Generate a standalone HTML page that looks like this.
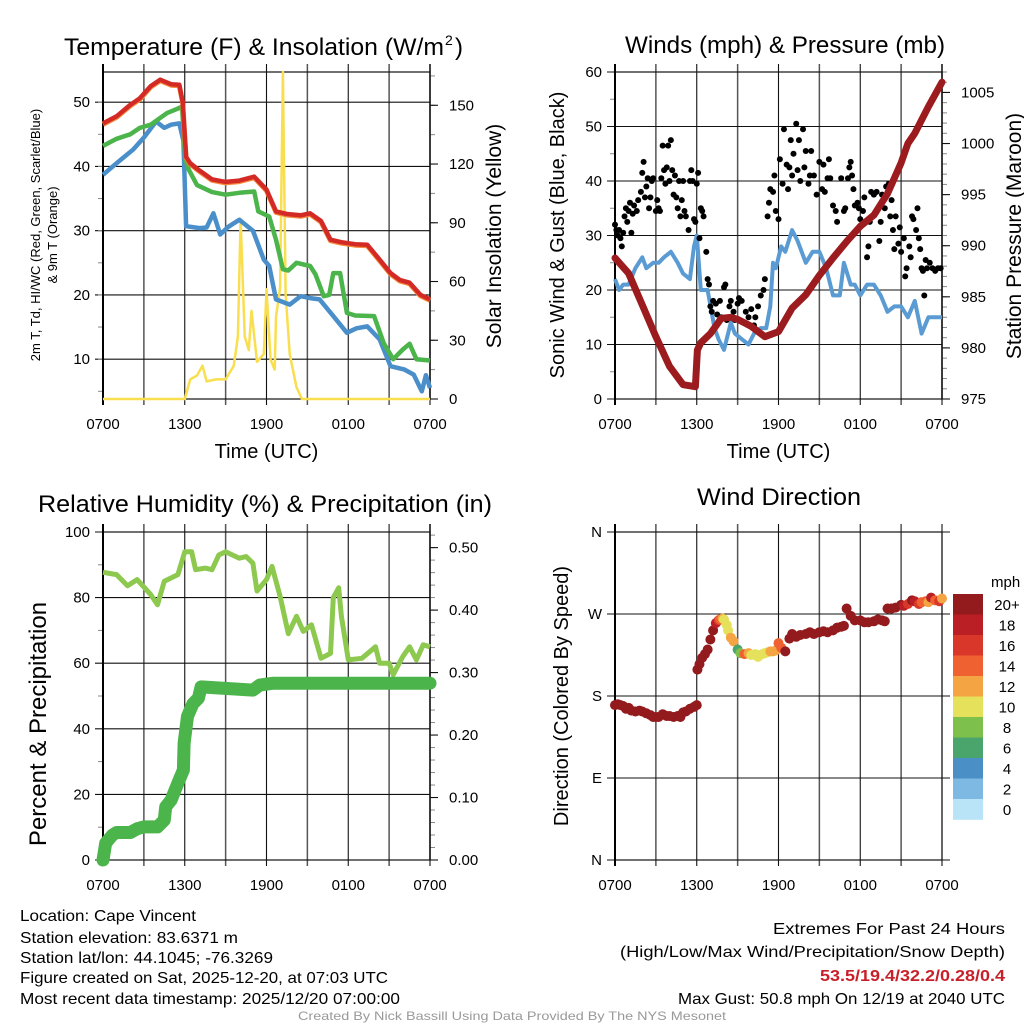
<!DOCTYPE html>
<html><head><meta charset="utf-8"><style>
body{margin:0;background:#fff}
svg{display:block;font-family:"Liberation Sans",sans-serif}
</style></head><body>
<svg id="fig" width="1024" height="1024" viewBox="0 0 1024 1024" xmlns="http://www.w3.org/2000/svg">
<rect width="1024" height="1024" fill="#fff"/>
<text x="64" y="55" font-size="24" textLength="380" lengthAdjust="spacingAndGlyphs">Temperature (F) &amp; Insolation (W/m</text>
<text x="445" y="45" font-size="14">2</text>
<text x="455" y="55" font-size="24">)</text>
<text x="625" y="53" font-size="24" textLength="320" lengthAdjust="spacingAndGlyphs">Winds (mph) &amp; Pressure (mb)</text>
<text x="38" y="512" font-size="24" textLength="454" lengthAdjust="spacingAndGlyphs">Relative Humidity (%) &amp; Precipitation (in)</text>
<text x="697" y="505" font-size="24" textLength="164" lengthAdjust="spacingAndGlyphs">Wind Direction</text>
<g id="layer"></g>
<g font-size="16">
<text x="20" y="921" textLength="176" lengthAdjust="spacingAndGlyphs">Location: Cape Vincent</text>
<text x="20" y="943" textLength="218" lengthAdjust="spacingAndGlyphs">Station elevation: 83.6371 m</text>
<text x="20" y="963" textLength="253" lengthAdjust="spacingAndGlyphs">Station lat/lon: 44.1045; -76.3269</text>
<text x="20" y="983" textLength="368" lengthAdjust="spacingAndGlyphs">Figure created on Sat, 2025-12-20, at 07:03 UTC</text>
<text x="20" y="1004" textLength="380" lengthAdjust="spacingAndGlyphs">Most recent data timestamp: 2025/12/20 07:00:00</text>
</g>
<g font-size="16">
<text x="773" y="934" textLength="232" lengthAdjust="spacingAndGlyphs">Extremes For Past 24 Hours</text>
<text x="620" y="957" textLength="385" lengthAdjust="spacingAndGlyphs">(High/Low/Max Wind/Precipitation/Snow Depth)</text>
<text x="820" y="981" fill="#c8202a" font-weight="bold" textLength="185" lengthAdjust="spacingAndGlyphs">53.5/19.4/32.2/0.28/0.4</text>
<text x="678" y="1004" textLength="327" lengthAdjust="spacingAndGlyphs">Max Gust: 50.8 mph On 12/19 at 2040 UTC</text>
</g>
<text x="512" y="1020" font-size="12" fill="#999" text-anchor="middle" textLength="428" lengthAdjust="spacingAndGlyphs">Created By Nick Bassill Using Data Provided By The NYS Mesonet</text>
</svg>
<script>
const xTickLabels=["0700","1300","1900","0100","0700"];
const tempHours=[0,1,2,2.7,3.5,4.2,5,5.6,5.85,6.1,6.4,7,8,9,10,11.1,12,12.7,13.5,14.5,15.2,16,16.7,17.5,18.5,19.4,20.3,21.1,21.8,22.5,23.3,24];
const tempRed=[46.7,47.8,49.6,50.6,52.5,53.5,52.8,52.7,50,41.5,40.5,39.5,38,37.6,37.8,38.4,36.4,33,32.6,32.4,32.7,31.5,28.6,28.2,27.9,27.8,25.5,23.4,22.3,21.9,20,19.3];
const greenHours=[0,1,2,2.7,3.5,4.7,5.5,5.8,6.05,6.3,6.9,8,9,10,11.1,11.4,12.2,12.7,13.2,13.6,14.2,15.2,15.6,16.2,16.6,16.9,17.4,17.9,18.5,19.9,20.6,21.3,22,22.5,23,24];
const dewGreen=[43.2,44.3,45,46,46.5,48.3,49,49.3,41,39.5,37.1,36,35.6,35.9,36.1,33,32.2,28.6,24,23.8,25,24.5,23.2,19.8,20,23.4,23.4,17.2,16.8,16.7,12.5,10,11.5,12.4,10,9.8];
const blueHours=[0,1,2.2,3,3.9,4.5,5,5.6,5.9,6.1,7.1,7.6,8.1,8.6,9.2,10,11,11.8,12.2,12.7,13.7,14.5,15.2,15.9,16.9,17.9,18.6,19.4,20.3,21.1,22.1,22.8,23.4,23.7,24];
const wcBlue=[38.7,40.5,42.6,44.5,47,46,46.5,46.7,44,30.7,30.4,30.5,32.7,29.4,30.6,31.7,30,25.5,24.5,19.3,18.5,19.8,19.5,19.3,16.7,14.1,14.8,15.1,13.1,8.9,8.4,7.6,5,7.5,5.5];
const solarHours=[0,6,6.4,6.9,7.3,7.6,8.3,9,9.6,9.9,10.1,10.4,10.7,10.9,11.3,11.8,12,12.3,12.6,12.7,13,13.2,13.4,13.7,14.2,14.6,24];
const solarWm2=[0,0,10,12,17,9,10,10,17,32,92,32,25,45,19,23,56,20,15,42,57,167,54,23,6,0,0];
const gustHours=[0,0.1,0.2,0.3,0.4,0.5,0.6,0.7,0.8,0.9,1,1.1,1.2,1.3,1.4,1.6,1.7,1.9,2,2.1,2.2,2.3,2.4,2.5,2.6,2.7,2.8,3,3.1,3.2,3.3,3.4,3.5,3.6,3.7,3.8,3.9,4,4.1,4.2,4.3,4.4,4.5,4.6,4.7,4.8,4.9,5,5.1,5.2,5.4,5.5,5.6,5.7,5.8,5.9,6,6.1,6.2,6.3,6.4,6.5,6.7,6.8,6.9,7,7.1,7.2,7.4,7.5,7.7,7.8,8,8.1,8.2,8.4,8.5,8.7,8.8,9,9.1,9.3,9.5,9.6,9.8,10,10.2,10.3,10.5,10.7,10.9,11,11.2,11.3,11.4,11.6,11.7,11.8,12,12.1,12.3,12.4,12.6,12.7,12.8,12.9,13,13.1,13.3,13.4,13.5,13.6,13.8,13.9,14,14.2,14.3,14.4,14.6,14.8,15,15.2,15.3,15.4,15.6,15.7,15.8,16,16.2,16.3,16.6,16.8,16.9,17.1,17.2,17.3,17.4,17.5,17.6,17.8,17.9,18,18.2,18.3,18.4,18.5,18.6,18.7,18.8,19,19.2,19.4,19.5,19.6,19.8,19.9,20.1,20.2,20.3,20.4,20.5,20.6,20.8,20.9,21,21.2,21.3,21.4,21.6,21.7,21.8,21.9,22.1,22.2,22.3,22.4,22.5,22.6,22.7,22.8,22.9,23.1,23.3,23.5,23.7,23.9];
const gustMph=[32,31,30,31,29.5,28,30.5,33.5,35,32.5,34.5,36,30.5,34,35.5,34.5,36.5,38,41.5,43.5,37,39,40.5,35,37,40,40.5,34.5,36.5,35,34.5,40.5,46.5,42,39.5,42.5,46.5,40,47.5,42,37.5,41,37,35,40,33.5,36.5,40,34.5,33.5,31,40,42,40,33,32.5,39.5,41.5,29.5,35,34.5,33.5,27,22,21,17,16,18,17.5,15.5,18,15,20.5,21,14.5,17,18,16,14.5,17.5,18.5,18,14,16,15,16.5,13.5,15,17,19,20,22,33.5,36,38.5,38,41,34.5,33,44,39.5,49.5,43,38.5,42.5,47.5,41,45,50.5,42,47.5,40,49.5,42.5,45.5,39.5,41,45.5,41,37.5,43.5,38.5,43,38,40.5,44,40.5,35.5,34.5,32.5,40.5,34.5,35,40.5,42.5,43.5,41,38.5,35.5,36,35,33,34.5,37,32.5,26,28,32.5,38,37.5,38,29,32.5,37.5,35,39,39.5,33.5,36.5,31,27.5,33.5,28.5,31.5,27,29.5,22.5,24,28,26,33.5,33,31,35,29.5,27.5,24,23.5,19,25.5,24,25,24,23.5,24,24];
const windHours=[0,0.3,0.6,1,1.5,2,2.3,2.8,3.2,3.6,4.1,4.6,5,5.5,5.8,6,6.3,6.8,7.3,7.6,8,8.5,8.8,9.3,9.8,10.2,10.7,11.1,11.4,11.6,11.8,12.2,12.5,13,13.4,14,14.5,15,15.5,16,16.5,16.8,17.3,17.6,18,18.5,19,19.5,20,20.5,21,21.5,22,22.5,23,23.5,24];
const windMph=[22,20,21,21,24,26,24,25,25,26,27,25,23,22,28,30,20,20,13,11,9,14,12,11,10,12,13,13,17,25,24,28,27,31,29,25,27,27,24,19,19,25,21,21,19,21,21,19,16,17,17,15,18,12,15,15,15];
const presHours=[0,1,2,3,4,5,5.9,6.05,6.3,7,7.8,8.5,9,10,11,12,13,14,15,16,17,18,19,20,21,21.5,22,23,24];
const presMb=[988.8,987.3,984.2,981.1,978.2,976.4,976.2,979.8,980.5,981.4,982.9,983,982.8,982.1,981.1,981.6,983.9,985.2,987.1,988.8,990.4,991.9,993,995.1,998.1,1000,1001,1003.6,1006];
const rhHours=[0,1,1.8,2.5,3.5,4,4.5,5.5,6,6.5,6.8,7.5,8,8.5,9,10,10.5,11,11.3,12,12.4,13,13.6,14.2,14.7,15.3,16,16.7,16.9,17.3,17.5,18,19,20,20.3,21,21.3,22,22.5,23,23.5,24];
const rhPct=[87.7,87,83.6,85.5,80.9,77.8,85,87,94,94,88.5,89,88.5,93,94,92,92.5,90.5,82,85.5,89.5,80.4,69,74.3,69.7,71.7,61.5,63,80,83,74.3,61,61.5,65,60,60,56.5,62,65,61,65.6,65];
const pcpHours=[0,0.2,0.7,1,2,2.5,3,4,4.5,4.6,5,5.5,5.9,5.95,6.2,6.6,7,7.2,11,11.5,12.5,24];
const pcpIn=[0,0.027,0.04,0.044,0.044,0.05,0.053,0.053,0.064,0.085,0.096,0.123,0.144,0.187,0.23,0.25,0.259,0.277,0.272,0.28,0.283,0.283];
const dirHours=[0,0.2,0.4,0.6,0.8,1,1.2,1.5,1.8,2,2.3,2.6,2.8,3,3.2,3.5,3.8,4,4.3,4.6,4.8,5,5.2,5.5,5.8,6,6.05,6.2,6.4,6.6,6.8,7,7.2,7.4,7.6,7.7,7.9,8,8.2,8.3,8.5,8.7,9,9.2,9.5,9.8,10,10.3,10.5,10.8,11,11.2,11.4,11.6,11.8,12,12.2,12.5,12.8,13,13.3,13.6,14,14.3,14.6,15,15.3,15.6,16,16.3,16.6,16.8,17,17.3,17.6,18,18.3,18.6,19,19.3,19.6,19.8,20,20.3,20.6,21,21.2,21.5,21.8,22,22.3,22.5,22.8,23,23.2,23.5,23.8,24];
const dirDeg=[170,171,170,169,166,167,164,163,164,163,161,159,157,157,157,160,158,158,157,158,157,162,163,166,168,170,209,215,222,226,231,242,252,260,263,264,265,264,258,252,244,240,231,227,226,227,225,226,223,226,227,228,229,229,230,238,233,229,243,248,245,247,248,250,248,250,251,250,252,255,256,257,276,268,263,263,261,261,262,264,263,262,276,276,277,280,279,281,285,284,281,283,284,283,288,285,284,287,289];
const dirSpd=[22,21,21,21,22,24,26,24,25,25,25,26,25,26,26,27,25,26,25,24,23,22,22,22,27,29,21,21,22,22,21,20,20,18,16,14,12,10,10,11,12,12,7,9,14,13,10,10,11,11,10,10,12,12,13,15,14,20,21,23,25,25,27,27,26,26,25,28,26,22,20,22,21,24,25,22,20,21,21,22,21,20,21,21,20,21,19,17,21,18,16,14,15,12,18,14,17,13,19];
const cbLabels=["20+","18","16","14","12","10","8","6","4","2","0"];
const cbColors=["#931a1d","#b91f24","#d8372a","#ef6130","#f5a443","#e5e15a","#7dc04b","#4aa56d","#4a8fc6","#7eb9e3","#b9e3f7"];

const NS="http://www.w3.org/2000/svg";
const layer=document.getElementById('layer');
function mk(tag,attrs,parent){const e=document.createElementNS(NS,tag);for(const k in attrs)e.setAttribute(k,attrs[k]);(parent||layer).appendChild(e);return e;}
function panel(x0,x1,y0,y1){return {x0,x1,y0,y1,x:h=>x0+h*(x1-x0)/24,y:(v,lo,hi)=>y1-(v-lo)*(y1-y0)/(hi-lo)};}
function pathD(P,hs,vs,lo,hi){let d="";for(let i=0;i<hs.length;i++){d+=(i?"L":"M")+P.x(hs[i]).toFixed(1)+","+P.y(vs[i],lo,hi).toFixed(1);}return d;}

function axes(P,name,leftTicks,llo,lhi,leftMinor,rightTicks,rlo,rhi,rightMinor,rfmt){
  const g=mk('g',{});
  
  
  for(let h=0;h<=24;h+=3){
    const ln=mk('line',{x1:P.x(h),x2:P.x(h),y1:P.y0-8,y2:P.y1+6,stroke:(h%6===0)?'#111':'#555','stroke-width':h%6===0?1.1:1.5},g);
    
    
  }
  for(let i=0;i<xTickLabels.length;i++){
    const t=mk('text',{x:P.x(i*6),y:P.y1+30,'font-size':15,'text-anchor':'middle'},g);
    t.textContent=xTickLabels[i];
    
    
  }
  for(const v of leftTicks.vals){
    const yy=P.y(v,llo,lhi);
    const ln=mk('line',{x1:P.x0-8,x2:P.x1+(rightTicks?0:8),y1:yy,y2:yy,stroke:'#111','stroke-width':1.1},g);
    
    
    const t=mk('text',{x:P.x0-13,y:yy+5,'font-size':15,'text-anchor':'end'},g);
    t.textContent=leftTicks.labels?leftTicks.labels[leftTicks.vals.indexOf(v)]:v;
    
    
  }
  if(leftMinor){for(const v of leftMinor){const yy=P.y(v,llo,lhi);if(yy<P.y0||yy>P.y1)continue;mk('line',{x1:P.x0-5,x2:P.x0,y1:yy,y2:yy,stroke:'#888','stroke-width':1},g);}}
  if(rightTicks){
    for(const v of rightMinor){const yy=P.y(v,rlo,rhi);if(yy<P.y0-1||yy>P.y1+1)continue;mk('line',{x1:P.x1,x2:P.x1+5,y1:yy,y2:yy,stroke:'#888','stroke-width':1},g);}
    for(const v of rightTicks){
      const yy=P.y(v,rlo,rhi);
      mk('line',{x1:P.x1,x2:P.x1+8,y1:yy,y2:yy,stroke:'#111','stroke-width':1.1},g);
      const t=mk('text',{x:P.x1+19,y:yy+5,'font-size':15},g);
      t.textContent=rfmt?rfmt(v):v;
      
      
    }
    mk('line',{x1:P.x1,x2:P.x1,y1:P.y0-8,y2:P.y1,stroke:'#111','stroke-width':1.5},g);
  }
  const fr=mk('rect',{x:P.x0,y:P.y0,width:P.x1-P.x0,height:P.y1-P.y0,fill:'none',stroke:'#111','stroke-width':1.2},g);
  
  
  mk('line',{x1:P.x0,x2:P.x0,y1:P.y0-8,y2:P.y1+6,stroke:'#000','stroke-width':2},g);
}
function rotText(x,y,txt,size,name){
  const t=mk('text',{x:0,y:0,'font-size':size,'text-anchor':'middle',transform:`translate(${x},${y}) rotate(-90)`});
  t.textContent=txt;
  
  
  return t;
}
function xTitle(P){
  const t=mk('text',{x:(P.x0+P.x1)/2,y:P.y1+59,'font-size':20,'text-anchor':'middle'});
  t.textContent='Time (UTC)';
  
  
}
function seq(a,b,s){const r=[];for(let v=a;v<=b+1e-9;v+=s)r.push(+v.toFixed(4));return r;}

// Panel 1
const P1=panel(103,430,72,399);
const TLO=3.8,THI=54.7,SLO=0,SHI=167;
axes(P1,'temp',{vals:[10,20,30,40,50]},TLO,THI,seq(5,55,5),[0,30,60,90,120,150],SLO,SHI,seq(0,165,15));
rotText(40,235,'2m T, Td, HI/WC (Red, Green, Scarlet/Blue)',13,'left-axis-title-line1');
rotText(57,235,'& 9m T (Orange)',13,'left-axis-title-line2');
rotText(501,236,'Solar Insolation (Yellow)',21,'right-axis-title');
xTitle(P1);
let e;
e=mk('path',{d:pathD(P1,solarHours,solarWm2,SLO,SHI),fill:'none',stroke:'#f9df4f','stroke-width':2.5,'stroke-linejoin':'round'});


e=mk('path',{d:pathD(P1,blueHours,wcBlue,TLO,THI),fill:'none',stroke:'#4a8fc9','stroke-width':4.5,'stroke-linejoin':'round'});


e=mk('path',{d:pathD(P1,greenHours,dewGreen,TLO,THI),fill:'none',stroke:'#4bb44a','stroke-width':4.5,'stroke-linejoin':'round'});


e=mk('path',{d:pathD(P1,tempHours,tempRed,TLO,THI),fill:'none',stroke:'#f58a3c','stroke-width':5,'stroke-linejoin':'round',transform:'translate(0,1)'});


e=mk('path',{d:pathD(P1,tempHours,tempRed,TLO,THI),fill:'none',stroke:'#d42a26','stroke-width':4.5,'stroke-linejoin':'round'});



// Panel 2
const P2=panel(615,942,72,399);
const WLO=0,WHI=60,PLO=975,PHI=1007;
axes(P2,'wind',{vals:[0,10,20,30,40,50,60]},WLO,WHI,seq(5,55,10),[975,980,985,990,995,1000,1005],PLO,PHI,seq(975,1007,1));
rotText(564,235,'Sonic Wind & Gust (Blue, Black)',20,'left-axis-title');
rotText(1021,236,'Station Pressure (Maroon)',21,'right-axis-title');
xTitle(P2);
e=mk('path',{d:pathD(P2,windHours,windMph,WLO,WHI),fill:'none',stroke:'#5a9bd4','stroke-width':4,'stroke-linejoin':'round'});


for(let i=0;i<gustHours.length;i++){
  const c=mk('circle',{cx:P2.x(gustHours[i]),cy:P2.y(gustMph[i],WLO,WHI),r:3,fill:'#000'});
  
  
}
e=mk('path',{d:pathD(P2,presHours,presMb,PLO,PHI),fill:'none',stroke:'#9b1b1e','stroke-width':7,'stroke-linejoin':'round','stroke-linecap':'round'});



// Panel 3
const P3=panel(103,430,532,860);
const RLO=0,RHI=100,QLO=0,QHI=0.525;
axes(P3,'rh',{vals:[0,20,40,60,80,100]},RLO,RHI,seq(10,90,20),[0,0.1,0.2,0.3,0.4,0.5],QLO,QHI,seq(0,0.52,0.02),v=>v.toFixed(2));
rotText(46,724,'Percent & Precipitation',24,'left-axis-title');
e=mk('path',{d:pathD(P3,rhHours,rhPct,RLO,RHI),fill:'none',stroke:'#8dc84f','stroke-width':5,'stroke-linejoin':'round'});


e=mk('path',{d:pathD(P3,pcpHours,pcpIn,QLO,QHI),fill:'none',stroke:'#4bb44a','stroke-width':13,'stroke-linejoin':'round','stroke-linecap':'round'});



// Panel 4
const P4=panel(615,942,532,860);
const DLO=0,DHI=360;
axes(P4,'dir',{vals:[0,90,180,270,360],labels:['N','E','S','W','N']},DLO,DHI,null,null);
rotText(568,696,'Direction (Colored By Speed)',20,'left-axis-title');
function spdColor(s){let i=Math.min(10,Math.floor(s/2));return cbColors[10-i];}
for(let i=0;i<dirHours.length;i++){
  const c=mk('circle',{cx:P4.x(dirHours[i]),cy:P4.y(dirDeg[i],DLO,DHI),r:5,fill:spdColor(dirSpd[i])});
  
  
}
const cb=mk('g',{});


for(let i=0;i<cbColors.length;i++){
  const y=594+i*20.5;
  const r=mk('rect',{x:953,y:y,width:30,height:20.8,fill:cbColors[i]},cb);
  
  
  const t=mk('text',{x:1007,y:y+16,'font-size':15,'text-anchor':'middle'},cb);
  t.textContent=cbLabels[i];
  
  
}
const mph=mk('text',{x:991,y:587,'font-size':15},cb);
mph.textContent='mph';


</script>
</body></html>
